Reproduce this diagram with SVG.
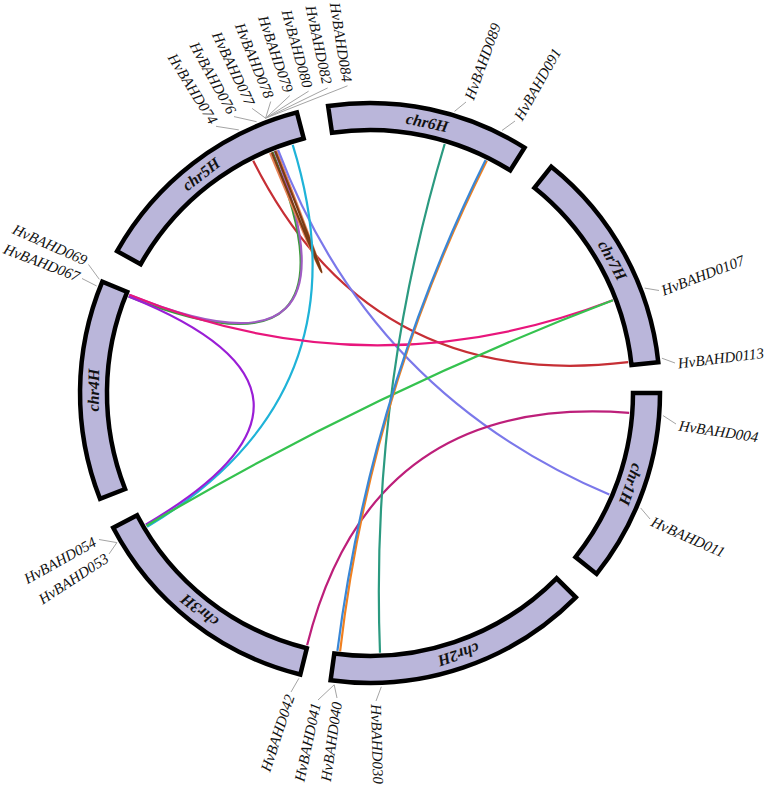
<svg xmlns="http://www.w3.org/2000/svg" width="768" height="787" viewBox="0 0 768 787">
<style>
.chr{fill:#bab6da;stroke:#000;stroke-width:4.5;stroke-linejoin:miter}
.cl{font-family:"Liberation Serif",serif;font-weight:bold;font-style:italic;font-size:16px;fill:#111;text-anchor:middle;dominant-baseline:central}
.g{font-family:"Liberation Serif",serif;font-style:italic;font-size:15px;fill:#111;dominant-baseline:central}
.s{text-anchor:start}
.e{text-anchor:end}
.ld{stroke:#a4a4a4;stroke-width:1;fill:none}
.lk{fill:none;stroke-width:2.2}
</style>
<rect width="768" height="787" fill="#fff"/>
<g id="links">
<path class="lk" stroke="#c62f35" d="M253.2,160.7 Q370,393 628.2,362.2"/>
<path class="lk" stroke="#3b9b3b" d="M272.6,151.9 Q370,393 128.6,296.4"/>
<path class="lk" stroke="#a05bc4" d="M274.7,151.1 Q370,393 129.3,294.8"/>
<path class="lk" stroke="#e8855a" stroke-width="2.6" d="M270.1,153.0 Q370,393 276.4,150.4"/>
<path class="lk" stroke="#7a3c14" d="M271.8,152.3 Q370,393 275.1,150.9"/>
<path class="lk" stroke="#7b78ea" d="M278.1,149.8 Q370,393 609.3,494.6"/>
<path class="lk" stroke="#1fb3d8" d="M292.7,144.8 Q370,393 147.1,526.9"/>
<path class="lk" stroke="#e8167c" d="M129.3,294.8 Q370,393 612.9,300.3"/>
<path class="lk" stroke="#9a1ed6" d="M128.6,296.4 Q370,393 145.7,524.6"/>
<path class="lk" stroke="#35c24f" d="M146.4,525.7 Q370,393 612.9,300.3"/>
<path class="lk" stroke="#bd1f7a" d="M629.2,412.9 Q370,393 307.1,645.3"/>
<path class="lk" stroke="#2b9a80" d="M444.7,144.0 Q370,393 380.0,652.8"/>
<path class="lk" stroke="#f08020" d="M486.8,160.7 Q370,393 340.1,651.3"/>
<path class="lk" stroke="#3a87d6" d="M485.6,160.1 Q370,393 337.4,650.9"/>
</g>
<g id="chr1H">
<path class="chr" d="M660,393 A290,290 0 0 1 596.6,573.9 L575.5,557.1 A263,263 0 0 0 633,393 Z"/>
<text class="cl" x="370" y="116.5" transform="rotate(109.3 370 393)">chr1H</text>
</g>
<g id="chr2H">
<path class="chr" d="M575.8,597.3 A290,290 0 0 1 330.6,680.3 L334.3,653.6 A263,263 0 0 0 556.6,578.3 Z"/>
<text class="cl" x="370" y="116.5" transform="rotate(161.3 370 393)">chr2H</text>
</g>
<g id="chr3H">
<path class="chr" d="M300.3,674.5 A290,290 0 0 1 113.2,527.8 L137.1,515.2 A263,263 0 0 0 306.8,648.3 Z"/>
<text class="cl" x="370" y="116.5" transform="rotate(218.1 370 393)">chr3H</text>
</g>
<g id="chr4H">
<path class="chr" d="M100.0,498.8 A290,290 0 0 1 102.3,281.6 L127.2,291.9 A263,263 0 0 0 125.1,489.0 Z"/>
<text class="cl" x="370" y="116.5" transform="rotate(270.6 370 393)">chr4H</text>
</g>
<g id="chr5H">
<path class="chr" d="M117.1,251.1 A290,290 0 0 1 296.9,112.4 L303.7,138.5 A263,263 0 0 0 140.6,264.3 Z"/>
<text class="cl" x="370" y="116.5" transform="rotate(322.35 370 393)">chr5H</text>
</g>
<g id="chr6H">
<path class="chr" d="M328.1,106.0 A290,290 0 0 1 524.5,147.6 L510.2,170.4 A263,263 0 0 0 332.0,132.8 Z"/>
<text class="cl" x="370" y="116.5" transform="rotate(11.95 370 393)">chr6H</text>
</g>
<g id="chr7H">
<path class="chr" d="M551.3,166.7 A290,290 0 0 1 658.3,362.2 L631.5,365.0 A263,263 0 0 0 534.4,187.8 Z"/>
<text class="cl" x="370" y="116.5" transform="rotate(61.3 370 393)">chr7H</text>
</g>
<g id="labels-chr5H">
<path class="ld" d="M238.8,129.9 L216.0,126.3 M256.6,121.7 L234.0,116.6 M265.6,118.2 L252.1,108.4 M265.6,118.2 L270.7,101.5 M265.6,118.2 L289.8,95.6 M265.6,118.2 L308.6,91.2 M265.6,118.2 L327.7,87.9 M266.5,117.8 L347.5,85.8"/>
<text class="g e" transform="translate(214,122.8) rotate(58)">HvBAHD074</text>
<text class="g e" transform="translate(232.3,113) rotate(61)">HvBAHD076</text>
<text class="g e" transform="translate(250.6,104.7) rotate(64.5)">HvBAHD077</text>
<text class="g e" transform="translate(269.4,97.7) rotate(68)">HvBAHD078</text>
<text class="g e" transform="translate(288.7,91.8) rotate(71)">HvBAHD079</text>
<text class="g e" transform="translate(307.8,87.3) rotate(74.5)">HvBAHD080</text>
<text class="g e" transform="translate(327.1,83.9) rotate(78)">HvBAHD082</text>
<text class="g e" transform="translate(347.2,81.8) rotate(81)">HvBAHD084</text>
</g>
<g id="labels-chr6H">
<path class="ld" d="M454.5,111.4 L466,102 M502.1,130.4 L515,121"/>
<text class="g s" transform="translate(469,99) rotate(-70)">HvBAHD089</text>
<text class="g s" transform="translate(518,119) rotate(-60.5)">HvBAHD091</text>
</g>
<g id="labels-chr7H">
<path class="ld" d="M644.7,288.1 L659,290.5 M661.9,358.2 L675,363"/>
<text class="g s" transform="translate(662,291) rotate(-21)">HvBAHD0107</text>
<text class="g s" transform="translate(678,363.5) rotate(-7)">HvBAHD0113</text>
</g>
<g id="labels-chr1H">
<path class="ld" d="M663.1,415.6 L676,424 M640.6,507.9 L650,519"/>
<text class="g s" transform="translate(679,425.5) rotate(8.5)">HvBAHD004</text>
<text class="g s" transform="translate(652,521) rotate(24)">HvBAHD011</text>
</g>
<g id="labels-chr2H">
<path class="ld" d="M381.3,686.8 L376,701 M334.2,684.8 L337,698 M334.2,684.8 L318,700"/>
<text class="g s" transform="translate(376,704) rotate(88.5)">HvBAHD030</text>
<text class="g e" transform="translate(337,702) rotate(-82)">HvBAHD040</text>
<text class="g e" transform="translate(316,703) rotate(-78)">HvBAHD041</text>
</g>
<g id="labels-chr3H">
<path class="ld" d="M298.9,678.3 L291,692 M116.9,542.6 L99,539.5 M116.9,542.6 L109,554"/>
<text class="g e" transform="translate(290,695) rotate(-72)">HvBAHD042</text>
<text class="g e" transform="translate(95,541) rotate(-29)">HvBAHD054</text>
<text class="g e" transform="translate(107,557) rotate(-33)">HvBAHD053</text>
</g>
<g id="labels-chr4H">
<path class="ld" d="M99.3,279.3 L88.5,264.5 M96.7,286 L82,278.5"/>
<text class="g e" transform="translate(86.5,261) rotate(24)">HvBAHD069</text>
<text class="g e" transform="translate(79,277) rotate(21)">HvBAHD067</text>
</g>
</svg>
